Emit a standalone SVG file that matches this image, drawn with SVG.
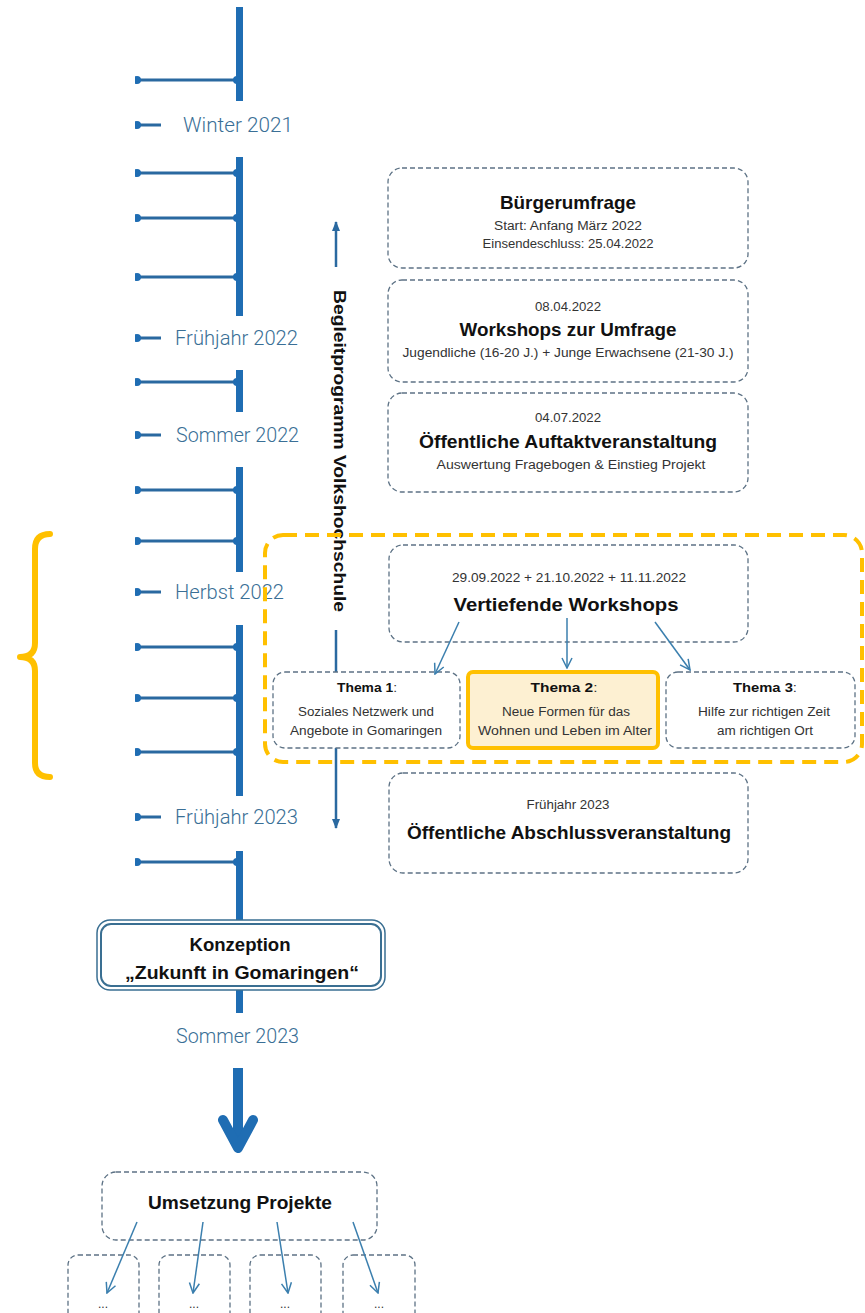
<svg xmlns="http://www.w3.org/2000/svg" width="865" height="1313" viewBox="0 0 865 1313">
<defs>
<style>
.bar{fill:#1f6db3}
.tick{stroke:#2a69a0;stroke-width:3;fill:none}
.dot{fill:#1f6db3}
.tl{font-family:Roboto,"Liberation Sans",sans-serif;font-weight:300;font-size:20px;fill:#3a6f96}
.box{fill:#fff;stroke:#5d7285;stroke-width:1.3;stroke-dasharray:5 3}
.t{font-family:"Liberation Sans",Arial,sans-serif;font-weight:bold;fill:#111;text-anchor:middle}
.s{font-family:"Liberation Sans",Arial,sans-serif;fill:#333;text-anchor:middle}
.conn{stroke:#3b7fae;stroke-width:1.5;fill:none}
</style>
<clipPath id="leftcut"><rect x="135" y="0" width="730" height="1313"/></clipPath>
<marker id="ah" viewBox="0 0 12 12" refX="11" refY="6" markerWidth="12" markerHeight="12" markerUnits="userSpaceOnUse" orient="auto">
<path d="M1,1 L11,6 L1,11" fill="none" stroke="#3b7fae" stroke-width="1.5"/>
</marker>
<marker id="ah2" viewBox="0 0 10 10" refX="9" refY="5" markerWidth="10" markerHeight="10" markerUnits="userSpaceOnUse" orient="auto">
<path d="M0,1 L10,5 L0,9 Z" fill="#2a69a0"/>
</marker>
</defs>
<rect width="865" height="1313" fill="#fff"/>

<g id="timeline">
<g clip-path="url(#leftcut)">
<rect class="bar" x="236" y="7" width="7" height="94"/>
<rect class="bar" x="236" y="157" width="7" height="159"/>
<rect class="bar" x="236" y="370" width="7" height="42"/>
<rect class="bar" x="236" y="467" width="7" height="105"/>
<rect class="bar" x="236" y="625" width="7" height="171"/>
<rect class="bar" x="236" y="851" width="7" height="70"/>
<rect class="bar" x="236" y="990" width="7" height="23"/>
<g class="tick">
<path d="M137,80H237M137,173H237M137,218H237M137,277H237M137,382H237M137,490H237M137,541H237M137,647H237M137,698H237M137,752H237M137,862H237"/>
<path d="M137,125H161M137,338H161M137,435H161M137,592H161M137,817H161"/>
</g>
<g class="dot">
<circle cx="137" cy="80" r="4"/><circle cx="237" cy="80" r="4"/>
<circle cx="137" cy="173" r="4"/><circle cx="237" cy="173" r="4"/>
<circle cx="137" cy="218" r="4"/><circle cx="237" cy="218" r="4"/>
<circle cx="137" cy="277" r="4"/><circle cx="237" cy="277" r="4"/>
<circle cx="137" cy="382" r="4"/><circle cx="237" cy="382" r="4"/>
<circle cx="137" cy="490" r="4"/><circle cx="237" cy="490" r="4"/>
<circle cx="137" cy="541" r="4"/><circle cx="237" cy="541" r="4"/>
<circle cx="137" cy="647" r="4"/><circle cx="237" cy="647" r="4"/>
<circle cx="137" cy="698" r="4"/><circle cx="237" cy="698" r="4"/>
<circle cx="137" cy="752" r="4"/><circle cx="237" cy="752" r="4"/>
<circle cx="137" cy="862" r="4"/><circle cx="237" cy="862" r="4"/>
<circle cx="137" cy="125" r="4"/><circle cx="137" cy="338" r="4"/><circle cx="137" cy="435" r="4"/><circle cx="137" cy="592" r="4"/><circle cx="137" cy="817" r="4"/>
</g>
</g>
<text class="tl" x="183" y="132" textLength="110" lengthAdjust="spacingAndGlyphs">Winter 2021</text>
<text class="tl" x="175" y="345" textLength="123" lengthAdjust="spacingAndGlyphs">Frühjahr 2022</text>
<text class="tl" x="176" y="442" textLength="123" lengthAdjust="spacingAndGlyphs">Sommer 2022</text>
<text class="tl" x="175" y="599" textLength="109" lengthAdjust="spacingAndGlyphs">Herbst 2022</text>
<text class="tl" x="175" y="824" textLength="123" lengthAdjust="spacingAndGlyphs">Frühjahr 2023</text>
<text class="tl" x="176" y="1043" textLength="123" lengthAdjust="spacingAndGlyphs">Sommer 2023</text>
</g>

<g id="begleitprogramm">
<path d="M336,267V222" stroke="#2a69a0" stroke-width="2.5" marker-end="url(#ah2)"/>
<path d="M336,630V828" stroke="#2a69a0" stroke-width="2.5" marker-end="url(#ah2)"/>
<text class="t" transform="translate(334,451) rotate(90)" font-size="17" textLength="322" lengthAdjust="spacingAndGlyphs">Begleitprogramm Volkshochschule</text>
</g>

<g id="buergerumfrage">
<rect class="box" x="388" y="168" width="360" height="100" rx="14"/>
<text class="t" x="568" y="209" font-size="19" textLength="136" lengthAdjust="spacingAndGlyphs">Bürgerumfrage</text>
<text class="s" x="568" y="230" font-size="12" textLength="148" lengthAdjust="spacingAndGlyphs">Start: Anfang März 2022</text>
<text class="s" x="568" y="248" font-size="12" textLength="171" lengthAdjust="spacingAndGlyphs">Einsendeschluss: 25.04.2022</text>
</g>

<g id="workshops-umfrage">
<rect class="box" x="388" y="280" width="360" height="102" rx="14"/>
<text class="s" x="568" y="311" font-size="12" textLength="66" lengthAdjust="spacingAndGlyphs">08.04.2022</text>
<text class="t" x="568" y="336" font-size="19" textLength="217" lengthAdjust="spacingAndGlyphs">Workshops zur Umfrage</text>
<text class="s" x="568" y="357" font-size="12" textLength="331" lengthAdjust="spacingAndGlyphs">Jugendliche (16-20 J.) + Junge Erwachsene (21-30 J.)</text>
</g>

<g id="auftakt">
<rect class="box" x="388" y="393" width="360" height="99" rx="14"/>
<text class="s" x="568" y="422" font-size="12" textLength="66" lengthAdjust="spacingAndGlyphs">04.07.2022</text>
<text class="t" x="568" y="448" font-size="19" textLength="298" lengthAdjust="spacingAndGlyphs">Öffentliche  Auftaktveranstaltung</text>
<text class="s" x="571" y="469" font-size="12" textLength="269" lengthAdjust="spacingAndGlyphs">Auswertung Fragebogen   &amp; Einstieg  Projekt</text>
</g>

<g id="highlight-frame">
<rect x="265" y="535" width="597" height="227" rx="18" fill="none" stroke="#ffc000" stroke-width="4" stroke-dasharray="14 8"/>
</g>

<g id="brace">
<path d="M50,534 Q35,534 35,549 V643 Q35,657 20,657 Q35,657 35,671 V763 Q35,777 50,777" fill="none" stroke="#ffc000" stroke-width="6" stroke-linecap="round" stroke-linejoin="round"/>
</g>

<g id="vertiefende">
<rect class="box" x="389" y="545" width="359" height="97" rx="14"/>
<text class="s" x="569" y="582" font-size="12" textLength="234" lengthAdjust="spacingAndGlyphs">29.09.2022 + 21.10.2022 + 11.11.2022</text>
<text class="t" x="566" y="611" font-size="19" textLength="225" lengthAdjust="spacingAndGlyphs">Vertiefende  Workshops</text>
</g>

<g id="thema1">
<rect class="box" x="273" y="672" width="187" height="76" rx="12"/>
<text class="s" x="367" y="692" font-size="12" textLength="60" lengthAdjust="spacingAndGlyphs"><tspan font-weight="bold" fill="#111">Thema 1</tspan>:</text>
<text class="s" x="366" y="716" font-size="12" textLength="136" lengthAdjust="spacingAndGlyphs">Soziales Netzwerk und</text>
<text class="s" x="366" y="735" font-size="12" textLength="152" lengthAdjust="spacingAndGlyphs">Angebote  in Gomaringen</text>
</g>

<g id="thema2">
<rect x="468" y="672" width="190" height="76" rx="5" fill="#fdf0d2" stroke="#ffc000" stroke-width="4"/>
<text class="s" x="564" y="692" font-size="12" textLength="67" lengthAdjust="spacingAndGlyphs"><tspan font-weight="bold" fill="#111">Thema 2</tspan>:</text>
<text class="s" x="566" y="716" font-size="12" textLength="128" lengthAdjust="spacingAndGlyphs">Neue  Formen für das</text>
<text class="s" x="565" y="735" font-size="12" textLength="174" lengthAdjust="spacingAndGlyphs">Wohnen  und  Leben  im Alter</text>
</g>

<g id="thema3">
<rect class="box" x="666" y="672" width="189" height="76" rx="12"/>
<text class="s" x="765" y="692" font-size="12" textLength="64" lengthAdjust="spacingAndGlyphs"><tspan font-weight="bold" fill="#111">Thema 3</tspan>:</text>
<text class="s" x="764" y="716" font-size="12" textLength="132" lengthAdjust="spacingAndGlyphs">Hilfe zur richtigen Zeit</text>
<text class="s" x="765" y="735" font-size="12" textLength="96" lengthAdjust="spacingAndGlyphs">am richtigen Ort</text>
</g>

<g id="abschluss">
<rect class="box" x="389" y="773" width="359" height="100" rx="14"/>
<text class="s" x="568" y="809" font-size="12" textLength="83" lengthAdjust="spacingAndGlyphs">Frühjahr 2023</text>
<text class="t" x="569" y="839" font-size="19" textLength="324" lengthAdjust="spacingAndGlyphs">Öffentliche  Abschlussveranstaltung</text>
</g>

<g id="konzeption">
<rect x="97" y="920" width="288" height="70" rx="13" fill="#fff" stroke="#3a6f92" stroke-width="1.5"/>
<rect x="101" y="924" width="280" height="62" rx="10" fill="none" stroke="#3a6f92" stroke-width="2"/>
<text class="t" x="240" y="951" font-size="18" textLength="101" lengthAdjust="spacingAndGlyphs">Konzeption</text>
<text class="t" x="242" y="979" font-size="18" textLength="234" lengthAdjust="spacingAndGlyphs">„Zukunft in Gomaringen“</text>
</g>

<g id="umsetzung">
<rect class="box" x="102" y="1172" width="275" height="68" rx="14"/>
<text class="t" x="240" y="1209" font-size="18" textLength="184" lengthAdjust="spacingAndGlyphs">Umsetzung Projekte</text>
</g>

<g id="sub1"><rect class="box" x="68" y="1255" width="71" height="70" rx="10"/><text class="s" x="103" y="1308" font-size="12" fill="#555">...</text></g>
<g id="sub2"><rect class="box" x="159" y="1255" width="71" height="70" rx="10"/><text class="s" x="194" y="1308" font-size="12" fill="#555">...</text></g>
<g id="sub3"><rect class="box" x="250" y="1255" width="71" height="70" rx="10"/><text class="s" x="285" y="1308" font-size="12" fill="#555">...</text></g>
<g id="sub4"><rect class="box" x="343" y="1255" width="72" height="70" rx="10"/><text class="s" x="379" y="1308" font-size="12" fill="#555">...</text></g>

<g id="connectors">
<path class="conn" d="M459,622L435,674" marker-end="url(#ah)"/>
<path class="conn" d="M567,618V668" marker-end="url(#ah)"/>
<path class="conn" d="M655,622L690,670" marker-end="url(#ah)"/>
<path d="M238,1068V1148" stroke="#1f6db3" stroke-width="10" fill="none"/>
<path d="M223,1120L238,1148L253,1120" stroke="#1f6db3" stroke-width="10" fill="none" stroke-linecap="round" stroke-linejoin="round"/>
<path class="conn" d="M137,1222L107,1293" marker-end="url(#ah)"/>
<path class="conn" d="M203,1222L193,1293" marker-end="url(#ah)"/>
<path class="conn" d="M277,1222L288,1293" marker-end="url(#ah)"/>
<path class="conn" d="M353,1222L378,1293" marker-end="url(#ah)"/>
</g>
</svg>
